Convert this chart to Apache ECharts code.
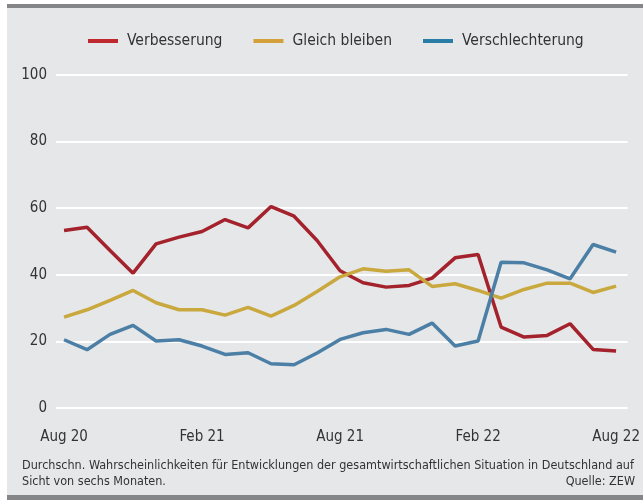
<!DOCTYPE html>
<html>
<head>
<meta charset="utf-8">
<script src="https://cdn.jsdelivr.net/npm/echarts@6/dist/echarts.min.js"></script>
<style>
  html, body { margin: 0; padding: 0; background: #fff; }
  #chart { width: 643px; height: 500px; }
</style>
</head>
<body>
<div id="chart"></div>
<script>
// monthly, Aug 2020 .. Aug 2022 (index 0..24)
const months = [
  "Aug 20", "Sep 20", "Okt 20", "Nov 20", "Dez 20", "Jan 21", "Feb 21",
  "Mär 21", "Apr 21", "Mai 21", "Jun 21", "Jul 21", "Aug 21", "Sep 21",
  "Okt 21", "Nov 21", "Dez 21", "Jan 22", "Feb 22", "Mär 22", "Apr 22",
  "Mai 22", "Jun 22", "Jul 22", "Aug 22"
];
const tickIndex = [0, 6, 12, 18, 24];

const verbesserung = [53.3, 54.3, 47.3, 40.5, 49.3, 51.3, 53.0, 56.6, 54.1, 60.5, 57.6, 50.3, 41.2,
  37.6, 36.3, 36.8, 39.0, 45.1, 46.1, 24.3, 21.3, 21.8, 25.3, 17.6, 17.1];
const gleichBleiben = [27.3, 29.5, 32.3, 35.3, 31.6, 29.5, 29.5, 27.9, 30.2, 27.6, 30.8, 35.0, 39.4,
  41.8, 41.1, 41.5, 36.5, 37.3, 35.3, 33.0, 35.6, 37.5, 37.5, 34.7, 36.6];
const verschlechterung = [20.5, 17.5, 22.1, 24.8, 20.1, 20.5, 18.6, 16.1, 16.6, 13.3, 13.0, 16.5, 20.6,
  22.6, 23.6, 22.1, 25.5, 18.6, 20.1, 43.8, 43.6, 41.5, 38.8, 49.1, 46.8];

const font = "'Liberation Sans Narrow', 'DejaVu Sans Condensed', 'Roboto', sans-serif";

let chart = echarts.init(document.getElementById("chart"));

function line(name, data, color, legendColor) {
  return {
    name: name,
    type: "line",
    data: data.map((v, i) => [i, v]),
    symbol: "none",
    color: legendColor,
    lineStyle: { color: color, width: 3.5 },
    itemStyle: { color: legendColor },
    animation: false
  };
}

chart.setOption({
  backgroundColor: "#ffffff",
  textStyle: { fontFamily: font, color: "#333" },
  graphic: [
    { type: "rect", left: 7, top: 4, shape: { width: 636, height: 496 }, style: { fill: "#e6e7e9" }, z: -10 },
    { type: "rect", left: 7, top: 4, shape: { width: 636, height: 4 }, style: { fill: "#858688" }, z: -9 },
    { type: "rect", left: 7, top: 495, shape: { width: 636, height: 5 }, style: { fill: "#858688" }, z: -9 },
    {
      type: "text", left: 22, top: 458,
      style: {
        text: "Durchschn. Wahrscheinlichkeiten für Entwicklungen der gesamtwirtschaftlichen Situation in Deutschland auf\nSicht von sechs Monaten.",
        font: "12.5px " + font, fill: "#333", lineHeight: 16
      }
    },
    {
      type: "text", right: 8, top: 475,
      style: { text: "Quelle: ZEW", font: "12.5px " + font, fill: "#333", align: "right" }
    }
  ],
  legend: {
    top: 28,
    left: 83,
    itemGap: 31,
    itemWidth: 30,
    itemHeight: 4,
    icon: "rect",
    textStyle: { fontSize: 15.5, color: "#333", fontFamily: font, padding: [0, 0, 0, 4] },
    data: ["Verbesserung", "Gleich bleiben", "Verschlechterung"]
  },
  grid: { left: 56, right: 13, top: 75, bottom: 92, containLabel: false },
  xAxis: {
    type: "value",
    min: -0.35,
    max: 24.5,
    axisLine: { show: false },
    axisTick: { show: false },
    splitLine: { show: false },
    axisLabel: {
      customValues: tickIndex,
      margin: 22,
      fontSize: 15,
      color: "#333",
      fontFamily: font,
      formatter: v => months[Math.round(v)]
    }
  },
  yAxis: {
    type: "value",
    min: 0,
    max: 100,
    interval: 20,
    axisLine: { show: false },
    axisTick: { show: false },
    axisLabel: { fontSize: 15, color: "#333", margin: 9, fontFamily: font },
    splitLine: { lineStyle: { color: "#ffffff", width: 2 } }
  },
  series: [
    line("Verbesserung", verbesserung, "#a3222b", "#c0282f"),
    line("Gleich bleiben", gleichBleiben, "#c9a83e", "#d4a03a"),
    line("Verschlechterung", verschlechterung, "#4b7fa6", "#2a7da6")
  ]
});
</script>
</body>
</html>
